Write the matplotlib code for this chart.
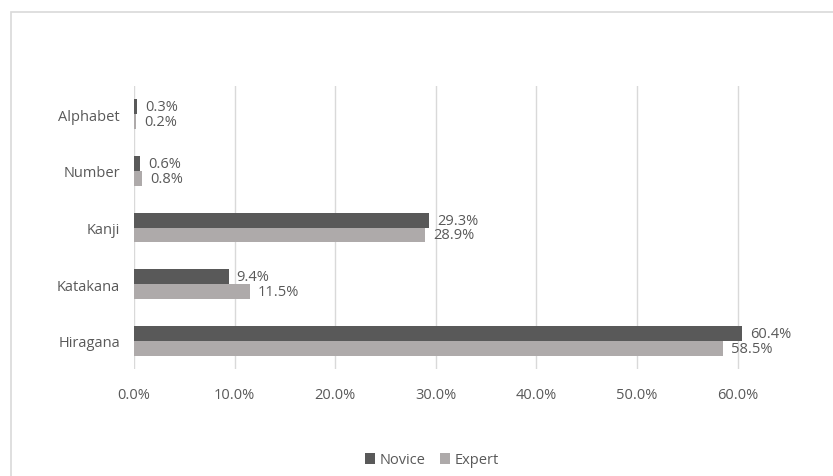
import matplotlib
matplotlib.use('Agg')
import matplotlib.pyplot as plt
import numpy as np
from matplotlib.patches import Rectangle

plt.rcParams['font.family'] = ['Open Sans', 'DejaVu Sans']

# data, bottom to top
categories = ['Hiragana', 'Katakana', 'Kanji', 'Number', 'Alphabet']
novice = [60.4, 9.4, 29.3, 0.6, 0.3]
expert = [58.5, 11.5, 28.9, 0.8, 0.2]
xticks = [0, 10, 20, 30, 40, 50, 60]

text_col = '#595959'
novice_col = '#595959'
expert_col = '#aeaaaa'
fs = 10.5

fig = plt.figure(figsize=(8.33, 4.77), dpi=100)
# outer chart frame
fig.patches.append(Rectangle((11 / 833, -0.05), 1.1, 1 - 13 / 477 + 0.05,
                             transform=fig.transFigure, fill=False,
                             edgecolor='#d9d9d9', linewidth=1.2))

ax = fig.add_axes([134 / 833, 1 - 370 / 477, 664 / 833, 283 / 477])
y = np.arange(len(categories))
h = 0.265
b1 = ax.barh(y + h / 2, novice, height=h, color=novice_col, label='Novice', zorder=3)
b2 = ax.barh(y - h / 2, expert, height=h, color=expert_col, label='Expert', zorder=3)

for bars, vals in ((b1, novice), (b2, expert)):
    for bar, v in zip(bars, vals):
        ax.text(v + 0.8, bar.get_y() + bar.get_height() / 2, '%.1f%%' % v,
                va='center', ha='left', fontsize=fs, color=text_col)

ax.set_xlim(0, 66)
ax.set_ylim(-0.5, 4.5)
ax.set_xticks(xticks)
ax.set_xticklabels(['%.1f%%' % t for t in xticks], fontsize=fs, color=text_col)
ax.set_yticks(y)
ax.set_yticklabels(categories, fontsize=fs, color=text_col)
ax.tick_params(length=0, pad=14)
ax.tick_params(axis='y', pad=10)
ax.tick_params(axis='x', pad=13)
ax.xaxis.grid(True, color='#d9d9d9', linewidth=1, zorder=0)
for s in ax.spines.values():
    s.set_visible(False)

fig.legend(handles=[b1, b2], labels=['Novice', 'Expert'], loc='center',
           bbox_to_anchor=(432 / 833, 1 - 461 / 477), ncol=2, frameon=False,
           fontsize=fs, labelcolor=text_col, handlelength=0.7, handleheight=0.7,
           handletextpad=0.3, columnspacing=1.0)

fig.savefig('out.png', dpi=100)
